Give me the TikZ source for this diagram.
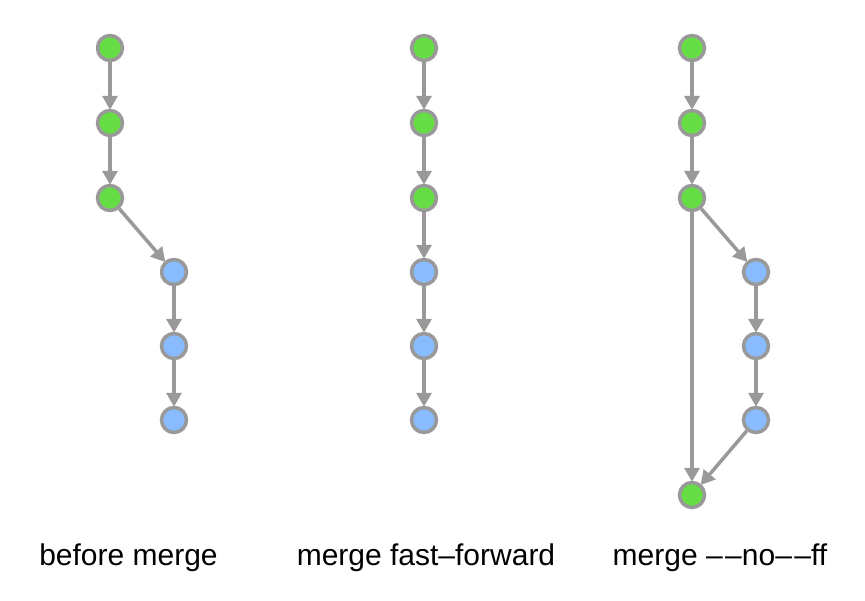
\documentclass[tikz,border=0pt]{standalone}
\usepackage{fontspec}
\setmainfont{Liberation Sans}
\usetikzlibrary{arrows.meta}
\definecolor{gfill}{HTML}{66DD44}
\definecolor{bfill}{HTML}{88BBFF}
\definecolor{edge}{HTML}{999999}
\tikzset{
  commit/.style={circle,draw=edge,line width=3.5pt,minimum size=25pt,inner sep=0pt},
  gc/.style={commit,fill=gfill},
  bc/.style={commit,fill=bfill},
  link/.style={draw=edge,line width=3.5pt,-{Triangle[length=14pt,width=15pt]},shorten >=-1pt},
  lbl/.style={font=\fontsize{30}{34}\selectfont,anchor=base}
}
\newcommand{\dd}{–\kern2.5pt–}
\begin{document}
\begin{tikzpicture}[x=1pt,y=-1pt]
\useasboundingbox (0,0) rectangle (865,600);
% before merge
\node[gc] (a1) at (110,48) {};
\node[gc] (a2) at (110,123) {};
\node[gc] (a3) at (110,198) {};
\node[bc] (a4) at (174,272) {};
\node[bc] (a5) at (174,346) {};
\node[bc] (a6) at (174,420) {};
\draw[link] (a1) -- (a2);
\draw[link] (a2) -- (a3);
\draw[link] (a3) -- (a4);
\draw[link] (a4) -- (a5);
\draw[link] (a5) -- (a6);
% fast-forward
\node[gc] (b1) at (424,48) {};
\node[gc] (b2) at (424,123) {};
\node[gc] (b3) at (424,198) {};
\node[bc] (b4) at (424,272) {};
\node[bc] (b5) at (424,346) {};
\node[bc] (b6) at (424,420) {};
\draw[link] (b1) -- (b2);
\draw[link] (b2) -- (b3);
\draw[link] (b3) -- (b4);
\draw[link] (b4) -- (b5);
\draw[link] (b5) -- (b6);
% no-ff
\node[gc] (c1) at (692,48) {};
\node[gc] (c2) at (692,123) {};
\node[gc] (c3) at (692,198) {};
\node[bc] (c4) at (756,272) {};
\node[bc] (c5) at (756,346) {};
\node[bc] (c6) at (756,420) {};
\node[gc] (c7) at (692,495) {};
\draw[link] (c1) -- (c2);
\draw[link] (c2) -- (c3);
\draw[link] (c3) -- (c4);
\draw[link] (c4) -- (c5);
\draw[link] (c5) -- (c6);
\draw[link] (c3) -- (c7);
\draw[link] (c6) -- (c7);
% labels
\node[lbl] (l1) at (128.5,565) {before merge};
\node[lbl] (l2) at (426,565) {merge fast–forward};
\node[lbl] (l3) at (720,565) {merge \dd no\dd ff};
\end{tikzpicture}
\end{document}
